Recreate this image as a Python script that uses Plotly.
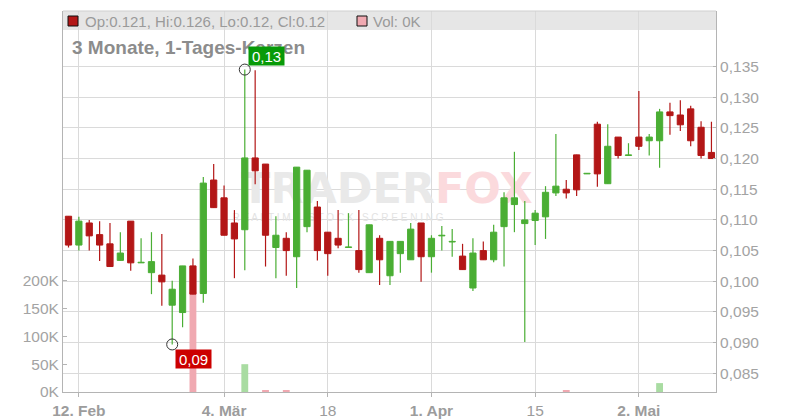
import plotly.graph_objects as go

# ---------------- data ----------------
opens = [0.1106, 0.1059, 0.1095, 0.1076, 0.1061, 0.1034, 0.1098, 0.1030, 0.1014, 0.1010,
         0.0961, 0.0949, 0.1025, 0.0980, 0.1165, 0.1136, 0.1095, 0.1084, 0.1201, 0.1191,
         0.1055, 0.1070, 0.1040, 0.1089, 0.1121, 0.1080, 0.1070, 0.1055, 0.1050, 0.1014,
         0.1070, 0.1009, 0.1045, 0.1035, 0.1095, 0.1040, 0.1074, 0.1064, 0.1041, 0.0989,
         0.1050, 0.1035, 0.1089, 0.1125, 0.1094, 0.1099, 0.1105, 0.1144, 0.1150, 0.1206,
         0.1175, 0.1256, 0.1159, 0.1235, 0.1205, 0.1235, 0.1229, 0.1229, 0.1276, 0.1271,
         0.1281, 0.1251, 0.1210]
highs = [0.1106, 0.1105, 0.1100, 0.1098, 0.1095, 0.1080, 0.1098, 0.1070, 0.1080, 0.1077,
         0.1001, 0.1025, 0.1037, 0.1170, 0.1191, 0.1156, 0.1116, 0.1345, 0.1344, 0.1191,
         0.1106, 0.1080, 0.1186, 0.1181, 0.1131, 0.1080, 0.1116, 0.1111, 0.1116, 0.1092,
         0.1075, 0.1065, 0.1065, 0.1095, 0.1095, 0.1075, 0.1090, 0.1085, 0.1061, 0.1070,
         0.1065, 0.1092, 0.1145, 0.1211, 0.1131, 0.1116, 0.1155, 0.1240, 0.1165, 0.1206,
         0.1176, 0.1260, 0.1256, 0.1235, 0.1225, 0.1310, 0.1240, 0.1281, 0.1291, 0.1295,
         0.1286, 0.1261, 0.1260]
lows = [0.1055, 0.1050, 0.1050, 0.1033, 0.1024, 0.1034, 0.1017, 0.1030, 0.0979, 0.0960,
        0.0897, 0.0925, 0.0979, 0.0965, 0.1120, 0.1075, 0.1005, 0.1018, 0.1158, 0.1024,
        0.1005, 0.1009, 0.0989, 0.1080, 0.1034, 0.1009, 0.1054, 0.1055, 0.1014, 0.1014,
        0.0994, 0.0994, 0.1014, 0.1035, 0.0999, 0.1014, 0.1050, 0.1040, 0.1019, 0.0984,
        0.1035, 0.1031, 0.1024, 0.1080, 0.0901, 0.1059, 0.1069, 0.1139, 0.1135, 0.1139,
        0.1175, 0.1154, 0.1159, 0.1200, 0.1205, 0.1214, 0.1205, 0.1185, 0.1239, 0.1245,
        0.1220, 0.1200, 0.1200]
closes = [0.1059, 0.1098, 0.1074, 0.1059, 0.1024, 0.1046, 0.1030, 0.1031, 0.1032, 0.0999,
          0.0987, 0.1025, 0.0979, 0.1160, 0.1120, 0.1075, 0.1069, 0.1201, 0.1180, 0.1075,
          0.1075, 0.1050, 0.1186, 0.1181, 0.1050, 0.1045, 0.1059, 0.1056, 0.1019, 0.1092,
          0.1035, 0.1065, 0.1065, 0.1085, 0.1040, 0.1070, 0.1075, 0.1065, 0.1019, 0.1046,
          0.1035, 0.1080, 0.1136, 0.1136, 0.1100, 0.1111, 0.1145, 0.1155, 0.1144, 0.1149,
          0.1176, 0.1175, 0.1220, 0.1205, 0.1206, 0.1220, 0.1235, 0.1276, 0.1270, 0.1255,
          0.1229, 0.1205, 0.1200]
volumes = [0, 0, 0, 0, 0, 0, 0, 0, 0, 0,
           0, 0, 180000, 0, 0, 0, 0, 50000, 0, 2000,
           0, 2000, 0, 0, 0, 0, 0, 0, 0, 0,
           0, 0, 0, 0, 0, 0, 0, 0, 0, 0,
           0, 0, 0, 0, 0, 0, 0, 0, 3000, 0,
           0, 0, 0, 0, 0, 0, 0, 16000, 0, 0,
           0, 0, 0]

x_tick_index = [1, 15, 25, 35, 45, 55]
x_tick_labels = ["<b>12. Feb</b>", "<b>4. Mär</b>", "18", "<b>1. Apr</b>", "15", "<b>2. Mai</b>"]
price_ticks = [0.085, 0.090, 0.095, 0.100, 0.105, 0.110, 0.115, 0.120, 0.125, 0.130, 0.135]
price_tick_labels = ["0,085", "0,090", "0,095", "0,100", "0,105", "0,110", "0,115",
                     "0,120", "0,125", "0,130", "0,135"]
vol_ticks = [0, 50000, 100000, 150000, 200000]
vol_tick_labels = ["0K", "50K", "100K", "150K", "200K"]

# ---------------- styling ----------------
RED = "#b31717"
GREEN = "#4aae34"
VOL_RED = "#f0a9b1"
VOL_GREEN = "#a9dca2"
GRID = "#dadada"
AXIS = "#b4b4b4"
TICKC = "#a3a3a3"
FONT = "Liberation Sans, Arial, sans-serif"

W, H = 800, 420
PL, PR, PT, PB = 63, 716, 11, 392
PRICE_RANGE = [0.08195, 0.14405]
VOL_RANGE = [0, 685000]
X_RANGE = [-0.53, 62.44]


def px(x):
    return (x - PL) / (PR - PL)


def py(y):
    return (PB - y) / (PB - PT)


def xdata(x):
    return X_RANGE[0] + (X_RANGE[1] - X_RANGE[0]) * px(x)


n = len(opens)
idx = list(range(n))
up = [c > o for o, c in zip(opens, closes)]

fig = go.Figure()

# watermark (drawn in the lower subplot, so below candles)
wm_y = VOL_RANGE[1] * py(192)
wm_y2 = VOL_RANGE[1] * py(218)
fig.add_trace(go.Scatter(x=[xdata(435), xdata(435)], y=[wm_y, wm_y], mode="text",
                         text=["<b>TRADER</b>", "<b>FOX</b>"],
                         textposition=["middle left", "middle right"],
                         textfont=dict(family="DejaVu Sans", size=43, color=["#e9e9e9", "#fbdadd"]),
                         hoverinfo="skip", showlegend=False, yaxis="y"))
fig.add_trace(go.Scatter(x=[xdata(338)], y=[wm_y2], mode="text",
                         text=["R E A L T I M E   S T O C K   S C R E E N I N G"],
                         textposition="middle center",
                         textfont=dict(family=FONT, size=10, color="#e3e3e3"),
                         hoverinfo="skip", showlegend=False, yaxis="y"))

# volume bars
fig.add_trace(go.Bar(x=idx, y=volumes, width=0.66,
                     marker=dict(color=[VOL_GREEN if u else VOL_RED for u in up], line=dict(width=0)),
                     hoverinfo="skip", showlegend=False, yaxis="y"))

# candle wicks
for flag, col in ((True, GREEN), (False, RED)):
    wx, wy = [], []
    for i in idx:
        if up[i] == flag:
            wx += [i, i, None]
            wy += [lows[i], highs[i], None]
    fig.add_trace(go.Scatter(x=wx, y=wy, mode="lines", line=dict(color=col, width=1.2),
                             hoverinfo="skip", showlegend=False, yaxis="y2"))

# candle bodies
for flag, col in ((True, GREEN), (False, RED)):
    bx = [i for i in idx if up[i] == flag]
    fig.add_trace(go.Bar(x=bx,
                         y=[abs(closes[i] - opens[i]) for i in bx],
                         base=[min(opens[i], closes[i]) for i in bx],
                         width=0.6,
                         marker=dict(color=col, line=dict(color=col, width=1)),
                         hoverinfo="skip", showlegend=False, yaxis="y2"))

# extreme markers
imax = max(idx, key=lambda i: highs[i])
imin = min(idx, key=lambda i: lows[i])
fig.add_trace(go.Scatter(x=[imax, imin], y=[highs[imax], lows[imin]], mode="markers",
                         marker=dict(symbol="circle-open", size=11, color="#333333",
                                     line=dict(width=1)),
                         hoverinfo="skip", showlegend=False, yaxis="y2"))

shapes = [
    dict(type="rect", xref="paper", yref="paper", x0=0, x1=1, y0=py(30), y1=1,
         fillcolor="#e6e6e6", line=dict(width=0), layer="below"),
    dict(type="line", xref="paper", yref="paper", x0=0, x1=1, y0=1, y1=1,
         line=dict(color="#cfcfcf", width=1)),
    dict(type="rect", xref="paper", yref="paper", x0=px(68), x1=px(78), y0=py(26), y1=py(16),
         fillcolor="#b31717", line=dict(color="#111111", width=1)),
    dict(type="rect", xref="paper", yref="paper", x0=px(357), x1=px(367), y0=py(26), y1=py(16),
         fillcolor="#f0a9b1", line=dict(color="#111111", width=1)),
]

annotations = [
    dict(xref="paper", yref="paper", x=px(83), y=py(21), xanchor="left", yanchor="middle",
         text="Op:0.121, Hi:0.126, Lo:0.12, Cl:0.12", showarrow=False,
         font=dict(family=FONT, size=15, color="#9a9a9a")),
    dict(xref="paper", yref="paper", x=px(371), y=py(21), xanchor="left", yanchor="middle",
         text="Vol: 0K", showarrow=False,
         font=dict(family=FONT, size=15, color="#9a9a9a")),
    dict(xref="paper", yref="paper", x=px(70), y=py(47), xanchor="left", yanchor="middle",
         text="<b>3 Monate, 1-Tages-Kerzen</b>", showarrow=False,
         font=dict(family=FONT, size=19, color="#8c8c8c")),
    dict(x=imax, y=highs[imax], xref="x", yref="y2", xanchor="left", yanchor="bottom",
         xshift=3, yshift=4, text="0,13", showarrow=False, bgcolor="#089a08",
         borderpad=1, width=33, height=16,
         font=dict(family=FONT, size=15, color="white")),
    dict(x=imin, y=lows[imin], xref="x", yref="y2", xanchor="left", yanchor="top",
         xshift=3, yshift=-5, text="0,09", showarrow=False, bgcolor="#cc0000",
         borderpad=1, width=33, height=16,
         font=dict(family=FONT, size=15, color="white")),
]

fig.update_layout(
    width=W, height=H,
    margin=dict(l=PL, r=W - PR, t=PT, b=H - PB, pad=0),
    paper_bgcolor="white", plot_bgcolor="white",
    barmode="overlay", showlegend=False, hovermode=False,
    font=dict(family=FONT),
    shapes=shapes, annotations=annotations,
    xaxis=dict(range=X_RANGE, tickmode="array", tickvals=x_tick_index, ticktext=x_tick_labels,
               automargin=False,
               showgrid=True, gridcolor=GRID, gridwidth=1, zeroline=False,
               showline=True, linecolor=AXIS, linewidth=1,
               ticks="outside", ticklen=4, tickcolor=AXIS,
               tickfont=dict(family=FONT, size=15.5, color="#9c9c9c")),
    yaxis=dict(range=VOL_RANGE, side="left", tickmode="array", tickvals=vol_ticks,
               ticktext=vol_tick_labels, showgrid=False, zeroline=False, automargin=False,
               showline=True, linecolor=AXIS, linewidth=1,
               ticks="inside", ticklen=4, tickcolor=AXIS,
               tickfont=dict(family=FONT, size=15.5, color=TICKC)),
    yaxis2=dict(range=PRICE_RANGE, side="right", overlaying="y", tickmode="array",
                tickvals=price_ticks, ticktext=price_tick_labels, automargin=False,
                showgrid=True, gridcolor=GRID, gridwidth=1, zeroline=False,
                showline=True, linecolor=AXIS, linewidth=1,
                ticks="inside", ticklen=3, tickcolor=AXIS,
                tickfont=dict(family=FONT, size=15.5, color=TICKC)),
)

fig.write_html("out.html", config={"displayModeBar": False},
               post_script="document.body.style.margin='0px';document.body.style.overflow='hidden';")
